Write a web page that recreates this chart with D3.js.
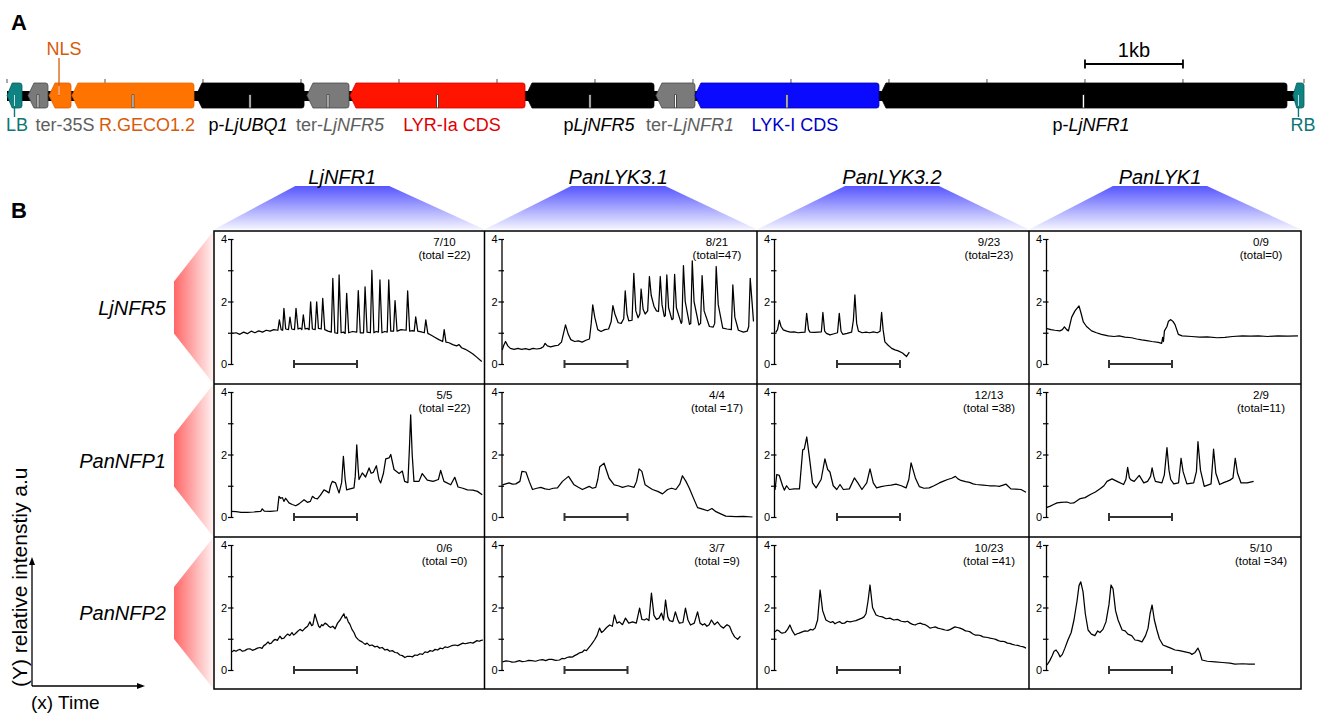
<!DOCTYPE html>
<html>
<head>
<meta charset="utf-8">
<title>construct and calcium traces</title>
<style>
body { margin: 0; background: #fff; }
svg { display: block; font-family: "Liberation Sans", Arial, sans-serif; }
</style>
</head>
<body>
<div id="chart"></div>
<script src="https://cdn.jsdelivr.net/npm/d3@7"></script>
<script>
// ---------- panel A : T-DNA construct, positions in kb ----------
var featPlain  = ['LB', 'ter-35S', 'NLS', 'R.GECO1.2', 'p-', 'ter-', 'LYR-Ia CDS', 'p', 'ter-', 'LYK-I CDS', 'p-', 'RB'];
var featItalic = ['', '', '', '', 'LjUBQ1', 'LjNFR5', '', 'LjNFR5', 'LjNFR1', '', 'LjNFR1', ''];
var featStart  = [0, 0.214, 0.429, 0.663, 1.929, 3.061, 3.5, 5.296, 6.622, 7.02, 8.908, 13.122];
var featEnd    = [0.153, 0.418, 0.653, 1.908, 3.031, 3.49, 5.286, 6.602, 7.02, 8.898, 13.061, 13.235];
var constructLength = 13.235;
var scaleBarKb = [11, 12];

// styles for the features (kept apart from the data)
var featFill   = ['#0f8282', '#7a7a7a', '#ff7300', '#ff7300', '#000', '#7a7a7a', '#ff1400', '#000', '#7a7a7a', '#0a0aff', '#000', '#0f8282'];
var featStroke = ['#0a5c5c', '#4a4a4a', '#e05a00', '#e86a00', '#000', '#4a4a4a', '#d00000', '#000', '#4a4a4a', '#0000b0', '#000', '#0a5c5c'];
var labelColor = ['#0e7676', '#5e5e5e', '#d85a08', '#d85a08', '#000', '#5e5e5e', '#e00000', '#000', '#5e5e5e', '#0000c8', '#000', '#0e7676'];
var labelShift = [2.5, 27, 4, 14, -2, 12, 14.5, 9, 14.5, 8, 7.5, 4.5];

// ---------- panel B : calcium traces ----------
var colGenes = ['LjNFR1', 'PanLYK3.1', 'PanLYK3.2', 'PanLYK1'];
var rowGenes = ['LjNFR5', 'PanNFP1', 'PanNFP2'];
var ratioText = [['7/10', '8/21', '9/23', '0/9'],
                 ['5/5', '4/4', '12/13', '2/9'],
                 ['0/6', '3/7', '10/23', '5/10']];
var totalText = [['(total =22)', '(total=47)', '(total=23)', '(total=0)'],
                 ['(total =22)', '(total =17)', '(total =38)', '(total=11)'],
                 ['(total =0)', '(total =9)', '(total =41)', '(total =34)']];
var yTicks = [0, 1, 2, 3, 4];
var yTickLabels = ['0', '', '2', '', '4'];
var timeBar = [25, 50];

// [time (0-100 of the panel), relative intensity]
var trLjNFR5_LjNFR1 = [[0.5,0.98],[2,1.0],[3.5,0.95],[5,1.02],[6.5,0.97],[8,1.05],[9.5,1.0],[11,1.06],[12.5,1.02],[14,1.08],[15.5,1.05],[17,1.1],[18.6,1.08],[19.2,1.41],[19.9,1.1],[20.5,1.08],[21,1.78],[21.7,1.12],[22.8,1.1],[23.4,1.5],[24.1,1.12],[25.2,1.1],[25.8,1.78],[26.6,1.12],[27.5,1.15],[28.1,1.1],[28.7,1.57],[29.4,1.12],[30.3,1.14],[31,1.1],[31.6,1.99],[32.3,1.12],[33.4,1.1],[34,1.99],[34.7,1.14],[35.8,1.12],[36.4,2.1],[37.2,1.1],[38.5,1.05],[39.8,1.02],[40.4,2.74],[41.2,1.0],[42.3,0.98],[42.9,2.85],[43.7,1.0],[44.6,1.02],[45.3,0.98],[45.9,2.26],[46.7,1.0],[48.2,1.04],[49.9,1.02],[50.5,2.35],[51.3,1.0],[52.6,1.0],[53.2,2.47],[54,1.02],[55.3,1.0],[55.9,3.0],[56.7,1.0],[57.6,1.04],[58.5,1.02],[59.1,2.69],[59.9,1.0],[61,1.04],[62,1.02],[62.6,2.69],[63.4,1.05],[64.5,1.05],[65.1,2.03],[65.9,1.05],[67.5,1.1],[69.5,1.08],[70.1,2.34],[70.9,1.05],[72.1,1.07],[72.7,1.05],[73.3,1.51],[74.1,1.05],[75.5,1.03],[76.7,1.0],[77.3,1.41],[78.1,0.98],[79.5,0.92],[81,0.85],[82.5,0.78],[84,0.72],[84.6,1.1],[85.3,0.7],[86.5,0.68],[88,0.62],[89.5,0.58],[90.5,0.62],[91.5,0.52],[93,0.47],[94.5,0.4],[96,0.32],[97.5,0.22],[99.5,0.08]];
var trLjNFR5_PanLYK31 = [[0.3,0.45],[0.9,0.6],[1.6,0.72],[2.5,0.58],[3.5,0.5],[5,0.47],[6.5,0.5],[8,0.47],[9.5,0.49],[11,0.46],[12.5,0.5],[14,0.48],[15.5,0.5],[16.6,0.55],[17.3,0.66],[18.2,0.58],[19.5,0.55],[21,0.58],[22.5,0.6],[23.8,0.7],[25.4,1.25],[26.5,0.95],[27.5,0.78],[29,0.72],[30.5,0.74],[32,0.7],[33.5,0.76],[34.9,0.8],[35.6,1.3],[36.2,1.89],[37,1.5],[38.2,1.1],[39.5,1.04],[41,1.1],[42.5,1.12],[43.5,1.35],[44.2,1.87],[45,1.6],[46.3,1.32],[47.5,1.3],[48.5,1.45],[49.1,2.34],[49.8,1.6],[50.5,1.38],[51.8,1.4],[52.5,2.9],[53.3,1.7],[54.2,1.48],[54.9,1.6],[55.4,2.4],[56.2,1.75],[57,1.6],[58,1.7],[58.7,2.8],[59.4,2.2],[60.5,1.85],[61.5,1.7],[62.3,1.68],[63,2.8],[63.7,1.9],[64.6,1.52],[65,1.55],[65.6,2.85],[66.3,1.8],[67.6,1.42],[68.1,1.45],[68.7,2.87],[69.4,1.8],[71.3,1.3],[71.6,1.35],[72.2,3.15],[72.9,2.0],[74.6,1.27],[75.1,1.3],[75.7,3.3],[76.4,2.0],[78.3,1.25],[79,1.3],[79.6,2.83],[80.4,1.7],[82.5,1.2],[84,1.18],[84.6,1.3],[85.2,3.12],[86,1.9],[87.8,1.15],[89.5,1.12],[91.2,1.1],[91.8,2.53],[92.6,1.5],[94,1.08],[96,1.02],[97.5,1.05],[98.1,1.2],[98.7,2.74],[99.5,1.9],[100,1.36]];
var trLjNFR5_PanLYK32 = [[0.7,1.01],[1.4,1.1],[2.1,1.4],[2.8,1.2],[3.7,1.09],[5,1.05],[6.5,1.02],[8,1.03],[9.5,1.0],[11,1.01],[12.3,1.02],[12.96,1.62],[13.7,1.1],[14.3,1.02],[16,1.01],[17.5,1.02],[18.8,1.03],[19.4,1.65],[20.1,1.05],[20.8,0.98],[22.2,0.93],[23.5,0.96],[25.2,1.0],[25.9,1.62],[26.6,1.05],[27.3,0.95],[29,0.98],[30.8,1.02],[31.5,1.4],[32.1,2.21],[32.8,1.3],[33.5,1.05],[35,1.0],[36.5,1.02],[38,1.0],[39.4,1.03],[41,1.0],[42.1,1.05],[42.7,1.65],[43.3,1.1],[44,0.71],[45.3,0.6],[46.7,0.5],[48,0.45],[49.3,0.42],[51,0.35],[52.6,0.24],[53.7,0.38]];
var trLjNFR5_PanLYK1 = [[0.3,1.13],[2,1.1],[3.5,1.08],[5.5,1.06],[6.5,1.1],[7.3,1.19],[8.2,1.1],[8.9,1.06],[10.2,1.5],[11.5,1.7],[13.1,1.86],[14,1.6],[14.8,1.35],[16.1,1.2],[18.1,1.06],[20,1.0],[22,0.95],[24.7,0.9],[27,0.88],[29,0.9],[31.3,0.86],[34,0.84],[36,0.8],[38,0.77],[40,0.75],[42,0.72],[44.6,0.69],[45.9,0.66],[46.3,0.85],[46.6,0.72],[47,1.06],[48,1.2],[48.6,1.37],[49.5,1.42],[50.5,1.35],[51.2,1.26],[52.5,0.95],[54,0.9],[57.8,0.88],[61,0.86],[64,0.87],[68,0.84],[71,0.85],[74,0.88],[78,0.9],[81,0.89],[84.3,0.9],[88,0.88],[92,0.9],[96,0.89],[100,0.9]];

var trPanNFP1_LjNFR1 = [[0.1,0.18],[2,0.17],[4,0.15],[6.5,0.15],[9,0.16],[11.8,0.18],[12.4,0.26],[13.2,0.19],[15.7,0.18],[18.4,0.2],[19.05,0.66],[19.7,0.6],[20.4,0.62],[21,0.5],[21.7,0.6],[23,0.45],[24.3,0.4],[25.7,0.36],[27,0.42],[29,0.55],[30.3,0.47],[31.5,0.5],[32.3,0.66],[33.3,0.6],[34.3,0.58],[35.5,0.7],[36.9,0.87],[38,0.82],[38.9,0.77],[39.5,1.0],[40.2,1.14],[41.5,1.09],[42.3,0.9],[42.9,0.77],[43.9,1.1],[44.6,1.94],[45.3,1.2],[45.9,0.87],[47.2,0.9],[48.8,0.93],[49.3,1.3],[49.9,2.31],[50.5,1.5],[50.8,1.2],[52.1,1.41],[53.4,1.28],[54.8,1.57],[55.6,1.4],[56.5,1.43],[57.7,1.64],[58.7,1.2],[59.4,1.09],[60.5,1.4],[61.4,1.86],[62.7,1.89],[63.4,2.0],[64.7,1.52],[66.7,1.39],[68,1.47],[68.9,1.14],[70.2,1.1],[70.8,2.2],[71.3,3.27],[71.9,2.0],[72.6,1.14],[74.6,1.14],[75.9,1.39],[77.9,1.18],[80.2,1.14],[82.3,1.2],[83.2,1.49],[84.5,1.14],[87.2,1.03],[88.8,1.27],[90.1,0.96],[92,0.92],[93.8,0.87],[96,0.86],[97.8,0.82],[99.7,0.71]];
var trPanNFP1_PanLYK31 = [[0.4,1.03],[1.7,1.06],[3,1.09],[4.3,1.05],[5.7,1.06],[7.3,1.14],[8.1,1.46],[9.7,1.44],[11,1.14],[12.3,0.88],[14,0.92],[15.6,0.95],[17.3,0.9],[18.9,0.88],[20.5,0.92],[22.2,0.93],[24.2,1.14],[26.6,1.3],[28.8,1.03],[30.5,0.95],[32.1,0.88],[34.8,0.98],[36.1,0.92],[37.4,0.95],[38.2,1.2],[39,1.61],[40.7,1.72],[42.7,1.24],[44.7,1.03],[46.3,1.0],[48,0.95],[50.3,1.0],[52.6,0.95],[53.6,1.14],[54.6,1.54],[55.7,1.46],[57,1.03],[58.5,0.95],[59.9,0.88],[62,0.82],[63.9,0.74],[65.9,0.88],[67.5,0.92],[69.2,0.88],[70.8,1.06],[71.8,1.32],[73.2,1.14],[74.5,0.93],[76.1,0.62],[77.8,0.3],[79.8,0.25],[81.8,0.2],[83.5,0.27],[85.1,0.17],[87,0.1],[89,0.03],[93,0.01],[96,0.02],[99.6,0.0]];
var trPanNFP1_PanLYK32 = [[0.4,0.87],[1.1,1.36],[2.1,1.33],[3.4,1.0],[4.1,0.86],[5,1.0],[6.1,0.88],[8,0.9],[10.1,0.9],[11.4,2.15],[12,2.17],[13,2.56],[14,1.94],[15.3,1.09],[16.7,0.93],[18.7,1.2],[20.2,1.86],[21.3,1.52],[22.2,1.44],[23.5,1.0],[24.9,0.88],[26.2,1.04],[27.5,0.88],[29.9,0.9],[31.9,1.25],[33.2,1.1],[34.9,0.88],[36.8,1.09],[38.1,1.54],[39.4,1.09],[40.7,0.93],[42.5,0.97],[44.4,1.0],[46.5,1.02],[48.4,1.05],[50.5,1.0],[52.4,0.93],[53.5,1.2],[54.4,1.73],[56.1,1.25],[57.7,0.97],[59.5,0.92],[61.6,0.93],[63.5,1.0],[65.6,1.09],[67.3,1.15],[68.9,1.2],[70.5,1.24],[72,1.3],[73,1.22],[74.2,1.17],[76,1.13],[77.6,1.11],[79,1.06],[80.2,1.04],[83,1.02],[85.4,1.0],[87.5,1.0],[89.4,0.98],[92.1,1.05],[94,0.9],[96,0.89],[98,0.88],[100,0.79]];
var trPanNFP1_PanLYK1 = [[0.1,0.3],[1.7,0.35],[3,0.4],[4.4,0.45],[6,0.47],[8.3,0.48],[9.7,0.44],[11,0.45],[12.3,0.52],[13.6,0.59],[15.5,0.62],[17.6,0.72],[19.6,0.8],[21.6,0.91],[23,1.0],[24.2,1.14],[26.2,1.22],[28.2,1.14],[30.8,1.04],[31.7,1.2],[32.4,1.59],[33.1,1.25],[33.7,1.19],[35,1.14],[37,1.33],[38.8,1.09],[40.3,1.14],[41.5,1.3],[42.1,1.57],[42.8,1.3],[43.4,1.14],[46,1.09],[46.97,1.35],[48,2.22],[48.8,1.5],[49.5,1.2],[50.7,1.06],[52.6,1.09],[53.6,1.88],[54.4,1.45],[55.9,1.06],[58.6,1.09],[59.7,1.46],[60.3,2.41],[61.3,1.5],[62.8,0.98],[65.5,1.06],[66.5,2.17],[67.4,1.4],[68.9,1.04],[70.5,1.1],[71.8,1.14],[73,1.18],[74.2,1.25],[75.1,1.88],[76,1.4],[77.4,1.09],[79.8,1.09],[82.4,1.14]];

var trPanNFP2_LjNFR1 = [[0.4,0.58],[1.2,0.63],[2,0.6],[2.8,0.64],[3.6,0.66],[4.5,0.6],[5.5,0.62],[6.5,0.67],[7.5,0.68],[8.5,0.63],[9.5,0.66],[10.5,0.7],[11.5,0.72],[12.3,0.69],[13,0.78],[13.8,0.82],[14.7,0.9],[15.3,0.84],[16,0.86],[16.8,0.94],[17.5,0.98],[18.4,0.95],[19.4,1.08],[20.2,1.0],[21,1.02],[21.8,1.1],[22.5,1.15],[23.3,1.1],[24.2,1.2],[24.8,1.12],[25.5,1.16],[26.5,1.24],[27.4,1.3],[28.4,1.25],[29.4,1.34],[30.4,1.4],[31.3,1.54],[32,1.42],[32.5,1.45],[33.3,1.79],[34.2,1.55],[34.8,1.4],[35.3,1.36],[36,1.45],[36.5,1.42],[37.3,1.5],[38.1,1.46],[38.8,1.4],[39.5,1.36],[40.4,1.4],[41.3,1.32],[42.3,1.5],[43.3,1.6],[44,1.7],[44.8,1.8],[45.3,1.66],[45.8,1.7],[46.5,1.55],[47.2,1.46],[48,1.3],[48.8,1.2],[49.6,1.05],[50.4,0.98],[51.2,0.93],[52,0.9],[52.6,0.86],[53.2,0.82],[54,0.86],[55,0.78],[56,0.8],[57.1,0.74],[58,0.76],[59,0.7],[60,0.72],[61.1,0.64],[62,0.66],[63,0.6],[64,0.62],[65.1,0.56],[66,0.55],[67,0.48],[68,0.46],[69,0.4],[70,0.44],[71,0.44],[72,0.42],[73,0.48],[74,0.47],[75,0.52],[76,0.5],[77,0.58],[78,0.56],[79,0.62],[80,0.6],[81,0.66],[82,0.64],[83,0.7],[84,0.68],[84.9,0.74],[86,0.72],[87,0.76],[88,0.79],[88.9,0.8],[90,0.78],[91,0.82],[92,0.86],[92.9,0.84],[94,0.86],[95,0.88],[96,0.86],[96.8,0.9],[97.6,0.94],[98.5,0.92],[99.3,0.95],[100,0.96]];
var trPanNFP2_PanLYK31 = [[0.4,0.26],[1.8,0.29],[3,0.28],[4.2,0.25],[5.5,0.26],[7.1,0.3],[8.2,0.27],[9.5,0.28],[10.8,0.31],[12,0.3],[13.5,0.28],[15.1,0.32],[16.3,0.33],[17.5,0.3],[18.8,0.34],[20,0.34],[21.5,0.31],[23,0.32],[24,0.37],[25,0.36],[26,0.4],[27,0.42],[28,0.41],[29,0.46],[30,0.5],[31,0.55],[32,0.57],[32.9,0.64],[33.7,0.62],[34.5,0.7],[35.7,0.82],[36.9,0.96],[37.9,1.1],[38.9,1.34],[39.7,1.2],[40.5,1.25],[41.7,1.36],[42.9,1.44],[44,1.4],[44.8,1.76],[45.8,1.5],[46.8,1.54],[48,1.45],[49.2,1.66],[50.5,1.5],[52,1.54],[53.5,1.5],[54.8,1.98],[55.7,1.62],[56.7,1.6],[57.6,1.64],[58.5,1.58],[59.5,2.46],[60.5,1.75],[61.5,1.62],[62.5,1.66],[63.5,1.82],[64.3,1.6],[65.1,2.24],[66,1.7],[66.7,1.58],[68,1.55],[69,1.86],[70,1.6],[70.6,1.5],[72,1.52],[73,1.98],[74,1.6],[75,1.44],[76.5,1.5],[77.8,1.86],[78.8,1.5],[79.8,1.44],[80.6,1.48],[81.5,1.4],[82.4,1.45],[83.3,1.6],[84.5,1.45],[85.7,1.54],[87,1.4],[88.1,1.34],[88.8,1.4],[89.5,1.45],[90.5,1.4],[91.5,1.2],[92.5,1.06],[93.7,0.98],[94.8,1.08]];
var trPanNFP2_PanLYK32 = [[0.4,1.22],[1.2,1.28],[2,1.25],[2.6,1.2],[3.2,1.18],[4.4,1.2],[5.4,1.3],[6.3,1.44],[7.3,1.25],[8.3,1.12],[9.2,1.16],[10,1.18],[11.2,1.22],[12.3,1.25],[13.4,1.24],[14.5,1.3],[15.4,1.28],[16.3,1.34],[17.3,1.6],[18.3,2.56],[19.3,1.9],[20.6,1.6],[21.5,1.56],[22.5,1.52],[23.3,1.55],[24.2,1.48],[25.1,1.52],[26,1.55],[27,1.49],[28,1.5],[29,1.56],[30.2,1.54],[31.3,1.56],[32.5,1.58],[33.7,1.62],[34.9,1.66],[35.7,1.7],[36.5,1.8],[37.3,2.2],[38.1,2.72],[39.1,2.0],[40.5,1.76],[41.7,1.72],[43,1.7],[44.5,1.64],[46,1.66],[47.5,1.6],[49,1.62],[50.5,1.56],[52,1.54],[53,1.56],[54,1.5],[55,1.46],[56,1.44],[57,1.48],[58,1.5],[59,1.47],[60,1.45],[61,1.4],[61.9,1.34],[63,1.36],[64,1.38],[65,1.34],[66,1.32],[67,1.3],[67.9,1.28],[69,1.27],[70,1.3],[70.9,1.34],[71.8,1.38],[72.8,1.36],[73.8,1.34],[75,1.3],[76,1.25],[77,1.24],[77.8,1.22],[78.8,1.16],[79.8,1.12],[81,1.12],[82,1.1],[83,1.06],[83.8,1.05],[84.8,1.04],[85.7,1.02],[87,1.0],[88,0.98],[89,0.94],[89.8,0.92],[90.8,0.92],[91.7,0.9],[92.6,0.86],[93.5,0.85],[94.6,0.82],[95.6,0.8],[96.7,0.79],[97.8,0.76],[99,0.74],[100,0.7]];
var trPanNFP2_PanLYK1 = [[0.4,0.16],[1.5,0.3],[2.4,0.45],[3.2,0.6],[4,0.64],[4.8,0.55],[5.6,0.42],[6.5,0.5],[7.5,0.7],[8.7,0.96],[10,1.2],[11.1,1.6],[12.3,2.2],[13.1,2.7],[13.8,2.82],[14.7,2.5],[15.6,1.8],[16.7,1.28],[18,1.15],[19.4,1.1],[20.5,1.25],[21.4,1.2],[22.6,1.3],[23.8,1.54],[25,2.1],[25.8,2.72],[26.6,2.6],[27.6,1.9],[28.6,1.6],[30.2,1.28],[31.4,1.25],[32.5,1.15],[34,1.1],[35.3,0.96],[36.5,0.95],[38.1,0.9],[39.5,1.1],[40.5,1.34],[41.3,1.8],[42.1,2.08],[43,1.6],[44,1.28],[45,1.0],[46.4,0.8],[48,0.75],[49.5,0.7],[51.2,0.64],[53,0.62],[55.2,0.58],[57,0.55],[57.9,0.5],[59,0.55],[60.3,0.7],[61.1,0.55],[61.9,0.32],[64,0.28],[67.1,0.26],[70,0.24],[73,0.22],[75,0.19],[78,0.2],[80.5,0.19],[82.9,0.19]];

var traces = [
  [trLjNFR5_LjNFR1, trLjNFR5_PanLYK31, trLjNFR5_PanLYK32, trLjNFR5_PanLYK1],
  [trPanNFP1_LjNFR1, trPanNFP1_PanLYK31, trPanNFP1_PanLYK32, trPanNFP1_PanLYK1],
  [trPanNFP2_LjNFR1, trPanNFP2_PanLYK31, trPanNFP2_PanLYK32, trPanNFP2_PanLYK1]
];

// ---------- layout ----------
var colEdges = [214, 484.5, 757, 1029, 1301];
var rowEdges = [231, 384, 537, 689];
var colLabelDx = [-7, -2.5, -1, -5];

var svg = d3.select('#chart').append('svg')
  .attr('width', 1325).attr('height', 713);

var defs = svg.append('defs');
var gb = defs.append('linearGradient').attr('id', 'blueGrad')
  .attr('x1', 0).attr('y1', 0).attr('x2', 0).attr('y2', 1);
gb.append('stop').attr('offset', '0%').attr('stop-color', '#5656ff');
gb.append('stop').attr('offset', '100%').attr('stop-color', '#f4f4ff');
var gr = defs.append('linearGradient').attr('id', 'redGrad')
  .attr('x1', 0).attr('y1', 0).attr('x2', 1).attr('y2', 0);
gr.append('stop').attr('offset', '0%').attr('stop-color', '#ff6666');
gr.append('stop').attr('offset', '100%').attr('stop-color', '#fff2f2');

// ===== panel A =====
svg.append('text').attr('x', 11).attr('y', 30)
  .style('font-size', '22px').style('font-weight', 'bold').text('A');

var xA = d3.scaleLinear().domain([0, constructLength]).range([7, 1304]);
var barTop = 83, barBot = 108, barMid = 95.5;

// kb ticks
var kbTicks = d3.range(0, 13).concat([constructLength]);
svg.append('g').selectAll('line').data(kbTicks).join('line')
  .attr('x1', d => xA(d)).attr('x2', d => xA(d))
  .attr('y1', 79).attr('y2', 83)
  .attr('stroke', '#555').attr('stroke-width', 1);

// backbone
svg.append('rect').attr('x', xA(0)).attr('y', 91)
  .attr('width', xA(constructLength) - xA(0) - 3).attr('height', 10).attr('fill', '#000');

function featPath(x0, x1) {
  var p = Math.min(6, (x1 - x0) * 0.35), r = 2.5;
  return 'M' + (x0 + p) + ',' + barTop +
    'L' + (x1 - r) + ',' + barTop +
    'Q' + x1 + ',' + barTop + ' ' + x1 + ',' + (barTop + r) +
    'L' + x1 + ',' + (barBot - r) +
    'Q' + x1 + ',' + barBot + ' ' + (x1 - r) + ',' + barBot +
    'L' + (x0 + p) + ',' + barBot +
    'L' + x0 + ',' + barMid + 'Z';
}

var feats = featPlain.map((d, i) => ({
  i: i, plain: d, ital: featItalic[i],
  x0: xA(featStart[i]), x1: xA(featEnd[i]),
  mid: xA((featStart[i] + featEnd[i]) / 2)
}));

svg.append('g').selectAll('path').data(feats).join('path')
  .attr('d', d => featPath(d.x0, d.x1))
  .attr('fill', d => featFill[d.i])
  .attr('stroke', d => featStroke[d.i])
  .attr('stroke-width', 0.8);

// connectors
feats.forEach(function (d) {
  var teal = (d.plain === 'LB' || d.plain === 'RB');
  if (teal) {
    svg.append('line').attr('x1', d.mid).attr('x2', d.mid).attr('y1', 95).attr('y2', 117)
      .attr('stroke', labelColor[d.i]).attr('stroke-width', 1.4);
    svg.append('line').attr('x1', d.mid).attr('x2', d.mid).attr('y1', 95).attr('y2', 106)
      .attr('stroke', '#fff').attr('stroke-width', 0.8);
    return;
  }
  if (d.plain === 'NLS') {
    svg.append('line').attr('x1', d.mid - 1).attr('x2', d.mid - 1).attr('y1', 58).attr('y2', 96)
      .attr('stroke', labelColor[d.i]).attr('stroke-width', 1.3);
    svg.append('line').attr('x1', d.mid - 1).attr('x2', d.mid - 1).attr('y1', 86).attr('y2', 95)
      .attr('stroke', '#fff').attr('stroke-width', 0.8);
    return;
  }
  svg.append('line').attr('x1', d.mid).attr('x2', d.mid).attr('y1', 94.5).attr('y2', 108)
    .attr('stroke', '#333').attr('stroke-width', 2.6);
  svg.append('line').attr('x1', d.mid).attr('x2', d.mid).attr('y1', 95).attr('y2', 107.5)
    .attr('stroke', '#fff').attr('stroke-width', 1.1);
});

// labels
feats.forEach(function (d) {
  var above = d.plain === 'NLS';
  var t = svg.append('text')
    .attr('x', d.mid + labelShift[d.i])
    .attr('y', above ? 55 : 131)
    .attr('text-anchor', 'middle')
    .attr('fill', labelColor[d.i])
    .style('font-size', '18px');
  t.append('tspan').text(d.plain);
  if (d.ital) t.append('tspan').style('font-style', 'italic').text(d.ital);
});

// 1 kb scale bar
var sb = svg.append('g');
sb.append('line').attr('x1', xA(scaleBarKb[0])).attr('x2', xA(scaleBarKb[1]))
  .attr('y1', 64).attr('y2', 64).attr('stroke', '#000').attr('stroke-width', 1.8);
scaleBarKb.forEach(function (k) {
  sb.append('line').attr('x1', xA(k)).attr('x2', xA(k)).attr('y1', 59.5).attr('y2', 68.5)
    .attr('stroke', '#000').attr('stroke-width', 1.8);
});
sb.append('text').attr('x', (xA(scaleBarKb[0]) + xA(scaleBarKb[1])) / 2).attr('y', 57)
  .attr('text-anchor', 'middle').style('font-size', '20px').text('1kb');

// ===== panel B =====
svg.append('text').attr('x', 11).attr('y', 218)
  .style('font-size', '22px').style('font-weight', 'bold').text('B');

// column headers
colGenes.forEach(function (g, c) {
  var l = colEdges[c], r = colEdges[c + 1];
  var cx = (l + r) / 2 + colLabelDx[c];
  svg.append('path')
    .attr('d', 'M' + (cx - 47) + ',186 L' + (cx + 47) + ',186 L' + r + ',229.5 L' + l + ',229.5 Z')
    .attr('fill', 'url(#blueGrad)');
  svg.append('text').attr('x', cx).attr('y', 184).attr('text-anchor', 'middle')
    .style('font-size', '20px').style('font-style', 'italic').text(g);
});

// row headers
rowGenes.forEach(function (g, rI) {
  var t = rowEdges[rI], b = rowEdges[rI + 1];
  var cy = (t + b) / 2;
  svg.append('path')
    .attr('d', 'M174,' + (cy - 26) + ' L213.5,' + t + ' L213.5,' + b + ' L174,' + (cy + 26) + ' Z')
    .attr('fill', 'url(#redGrad)');
  svg.append('text').attr('x', 166).attr('y', cy + 7).attr('text-anchor', 'end')
    .style('font-size', '20px').style('font-style', 'italic').text(g);
});

var line = d3.line().x(d => d.x).y(d => d.y);

rowGenes.forEach(function (rg, rI) {
  colGenes.forEach(function (cg, c) {
    var left = colEdges[c], right = colEdges[c + 1], top = rowEdges[rI];
    var axisX = left + 17;
    var x = d3.scaleLinear().domain([0, 100]).range([axisX, axisX + 252]);
    var y = d3.scaleLinear().domain([0, 4]).range([top + 133, top + 8]);
    var g = svg.append('g');

    var yAxis = d3.axisLeft(y).tickValues(yTicks).tickSize(3).tickSizeOuter(0)
      .tickPadding(1).tickFormat((d, i) => yTickLabels[i]);
    g.append('g').attr('transform', 'translate(' + axisX + ',0)').call(yAxis)
      .attr('font-family', null).attr('font-size', null)
      .call(a => a.select('.domain').attr('stroke-width', 1.3))
      .call(a => a.selectAll('.tick line').attr('x1', 2.5).attr('stroke-width', 1.2))
      .call(a => a.selectAll('.tick text').style('font-size', '11px').attr('fill', '#000'));

    // trace
    g.append('path')
      .attr('d', line(traces[rI][c].map(p => ({ x: x(p[0]), y: y(p[1]) }))))
      .attr('fill', 'none').attr('stroke', '#000').attr('stroke-width', 1.25)
      .attr('stroke-linejoin', 'round');

    // time scale bar
    var by = y(0);
    g.append('line').attr('x1', x(timeBar[0])).attr('x2', x(timeBar[1]))
      .attr('y1', by).attr('y2', by).attr('stroke', '#333').attr('stroke-width', 2);
    timeBar.forEach(function (tv) {
      g.append('line').attr('x1', x(tv)).attr('x2', x(tv)).attr('y1', by - 4).attr('y2', by + 4)
        .attr('stroke', '#333').attr('stroke-width', 2);
    });

    // ratios
    g.append('text').attr('x', right - 40).attr('y', top + 15).attr('text-anchor', 'middle')
      .style('font-size', '11.5px').text(ratioText[rI][c]);
    g.append('text').attr('x', right - 40).attr('y', top + 27.5).attr('text-anchor', 'middle')
      .style('font-size', '11.5px').text(totalText[rI][c]);
  });
});

// grid boxes
var grid = svg.append('g').attr('fill', 'none').attr('stroke', '#000').attr('stroke-width', 1.5);
grid.append('rect').attr('x', colEdges[0]).attr('y', rowEdges[0])
  .attr('width', colEdges[4] - colEdges[0]).attr('height', rowEdges[3] - rowEdges[0]);
colEdges.slice(1, 4).forEach(function (cx) {
  grid.append('line').attr('x1', cx).attr('x2', cx).attr('y1', rowEdges[0]).attr('y2', rowEdges[3]);
});
rowEdges.slice(1, 3).forEach(function (ry) {
  grid.append('line').attr('x1', colEdges[0]).attr('x2', colEdges[4]).attr('y1', ry).attr('y2', ry);
});

// legend axes (bottom left)
var lg = svg.append('g');
lg.append('line').attr('x1', 32).attr('x2', 32).attr('y1', 686).attr('y2', 563)
  .attr('stroke', '#000').attr('stroke-width', 1.3);
lg.append('line').attr('x1', 32).attr('x2', 139).attr('y1', 686).attr('y2', 686)
  .attr('stroke', '#000').attr('stroke-width', 1.3);
lg.append('path').attr('d', 'M32,557 L29,565 L35,565 Z').attr('fill', '#000');
lg.append('path').attr('d', 'M145,686 L137,683 L137,689 Z').attr('fill', '#000');
lg.append('text').attr('transform', 'translate(27,687) rotate(-90)')
  .style('font-size', '21px').text('(Y) relative intenstiy a.u');
lg.append('text').attr('x', 31).attr('y', 709).style('font-size', '19px').text('(x) Time');
</script>
</body>
</html>
